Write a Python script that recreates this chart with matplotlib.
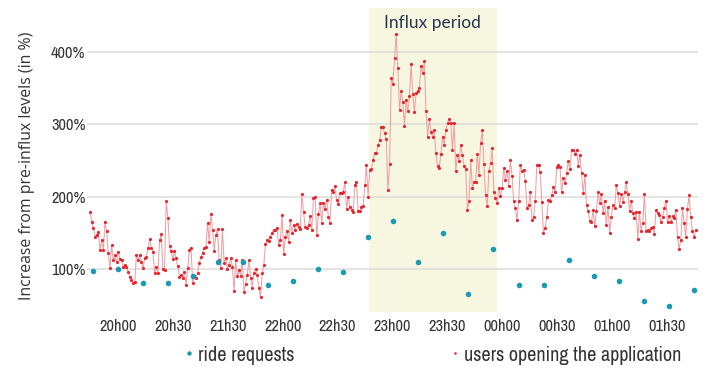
import matplotlib.pyplot as plt
from matplotlib import font_manager
import numpy as np

# time axis in minutes after midnight of the first day (20h00 = 1200)
red_start, red_end = 1184.7, 1515.8
blue_start, blue_end = 1186.3, 1514.7
influx_start, influx_end = 1337, 1407

tick_pos = [1200, 1230, 1260, 1290, 1320, 1350, 1380, 1410, 1440, 1470, 1500]
tick_labels = ["20h00", "20h30", "21h30", "22h00", "22h30", "23h00",
               "23h30", "00h00", "00h30", "01h00", "01h30"]

# ride requests (% of pre-influx level)
ride_requests = [97, 100, 81, 81, 90, 110, 110, 78, 83, 100, 96, 144, 166,
                 110, 150, 65, 128, 78, 78, 112, 90, 83, 56, 49, 71]

# users opening the application (% of pre-influx level)
users_opening = [
    179, 165, 157, 145, 147, 151, 126, 140, 126, 165, 153, 122, 101, 133, 112,
    119, 110, 124, 114, 112, 103, 106, 103, 96, 89, 85, 81, 82, 119, 112, 119,
    110, 101, 115, 117, 129, 141, 129, 124, 94, 103, 94, 140, 148, 100, 99, 194,
    171, 132, 125, 114, 125, 115, 104, 89, 92, 88, 96, 78, 101, 126,
    129, 81, 89, 88, 94, 108, 117, 122, 129, 130, 164, 137, 176, 154, 125, 147,
    155, 112, 102, 155, 108, 115, 100, 106, 115, 103, 70, 112, 90, 99, 90, 112,
    68, 79, 92, 112, 88, 74, 94, 100, 92, 74, 61, 94, 106, 134, 140, 139, 145,
    150, 154, 154, 157, 133, 140, 175, 121, 144, 153, 137, 168, 150, 161, 154,
    162, 158,
    155, 204, 179, 158, 157, 161, 173, 154, 198, 200, 147, 176, 191, 164, 191,
    183, 195, 172, 164, 209, 207, 215, 195, 190, 205, 205, 207, 220, 183, 200,
    186, 182, 179, 216, 220, 180, 180, 186, 187, 216, 244, 200, 237, 238, 251,
    260, 260, 272, 278, 296, 296, 288, 280, 209, 245,
    365, 356, 392, 425, 378, 320, 346, 331, 298,
    334, 318, 339, 384, 342, 317, 344, 346, 351, 381, 371, 388, 318, 283, 308,
    290, 283, 292, 260, 242, 240, 259, 283, 272, 292, 302, 308, 302, 265, 302,
    236, 258, 250, 272, 258, 242, 238, 182, 194, 251, 212, 220, 220, 259, 230,
    274, 292, 245, 202, 187, 236, 247, 267, 207, 198, 191, 212, 201, 212, 240,
    223, 236, 215, 251,
    229, 194, 184, 168, 194, 244, 236, 237, 222, 184, 188, 206, 168, 172, 194,
    244, 244, 234, 193, 150, 157, 172, 195, 194, 202, 213, 206, 241, 244, 241,
    206, 226, 219, 233, 249, 238, 265, 265, 259, 265, 243, 258, 233, 205, 230,
    188, 180, 166, 165, 182, 159, 180, 206, 191, 204, 177, 194, 161, 186, 150,
    172, 188, 184, 216, 205, 187, 204, 193, 206, 220, 204, 180, 194, 177, 171,
    179, 141, 179, 153, 164, 204, 153, 154, 153, 157, 158, 148, 182, 177, 175,
    165, 172, 184, 194, 165, 173, 165, 173, 171, 182, 144, 128, 140, 184, 164,
    144, 183, 202, 172, 153, 144, 154,
]

t_red = np.linspace(red_start, red_end, len(users_opening))
t_blue = np.linspace(blue_start, blue_end, len(ride_requests))

blue = "#1b9ab4"
red = "#e5262e"

# pick a narrow face if the system has one (ticks and legend are condensed)
narrow_fp = None
for f in font_manager.fontManager.ttflist:
    if "Narrow" in f.fname and "Bold" not in f.fname and "Italic" not in f.fname:
        narrow_fp = f.fname
        break
if narrow_fp is None:
    for f in font_manager.fontManager.ttflist:
        if "Condensed" in f.fname and "Bold" not in f.fname and "Oblique" not in f.fname:
            narrow_fp = f.fname
            break


def narrow_prop(size):
    if narrow_fp:
        return font_manager.FontProperties(fname=narrow_fp, size=size)
    return font_manager.FontProperties(family="DejaVu Sans", stretch="condensed", size=size)


fig = plt.figure(figsize=(7.23, 3.71), dpi=100)
ax = fig.add_axes([0.1203, 0.159, 0.845, 0.819])

ax.axvspan(influx_start, influx_end, color="#f7f6e0", zorder=0, lw=0)
for v in [100, 200, 300, 400]:
    ax.axhline(v, color="#dcdcdc", lw=1.1, zorder=0.5)

ax.plot(t_red, users_opening, color="#f0a0a3", lw=0.75, zorder=2)
ax.plot(t_red, users_opening, ls="none", marker="o", ms=2.3, color=red,
        mew=0, zorder=3, label="users opening the application")
ax.plot(t_blue, ride_requests, ls="none", marker="o", ms=4.0, color=blue,
        mew=0, zorder=4, label="ride requests")

ax.text((influx_start + influx_end) / 2, 440, "Influx period", ha="center",
        va="center", fontsize=12.5, family="Lato", color="#27364a")

ax.set_xlim(1183, 1517)
ax.set_ylim(40.5, 461)
ax.set_yticks([100, 200, 300, 400])
ax.set_yticklabels(["100%", "200%", "300%", "400%"])
ax.set_xticks(tick_pos)
ax.set_xticklabels(tick_labels)
ax.tick_params(axis="both", length=0, colors="#333333")
ax.tick_params(axis="y", pad=1)
ax.tick_params(axis="x", pad=5)
for lab in ax.get_xticklabels() + ax.get_yticklabels():
    lab.set_fontproperties(narrow_prop(11.8))
for s in ax.spines.values():
    s.set_visible(False)

ax.set_ylabel("Increase from pre-influx levels (in %)", fontsize=11.4,
              family="Open Sans", color="#333333")
ax.yaxis.set_label_coords(-0.085, 0.48)

h, l = ax.get_legend_handles_labels()
leg = fig.legend(h[::-1], l[::-1], ncol=2, loc="center",
                 bbox_to_anchor=(0.600, 0.043), frameon=False,
                 handlelength=0.3, handletextpad=0.3, columnspacing=7.8,
                 prop=narrow_prop(14.5), markerscale=0.8)
for t in leg.get_texts():
    t.set_color("#333333")

fig.savefig("out.png", dpi=100)
